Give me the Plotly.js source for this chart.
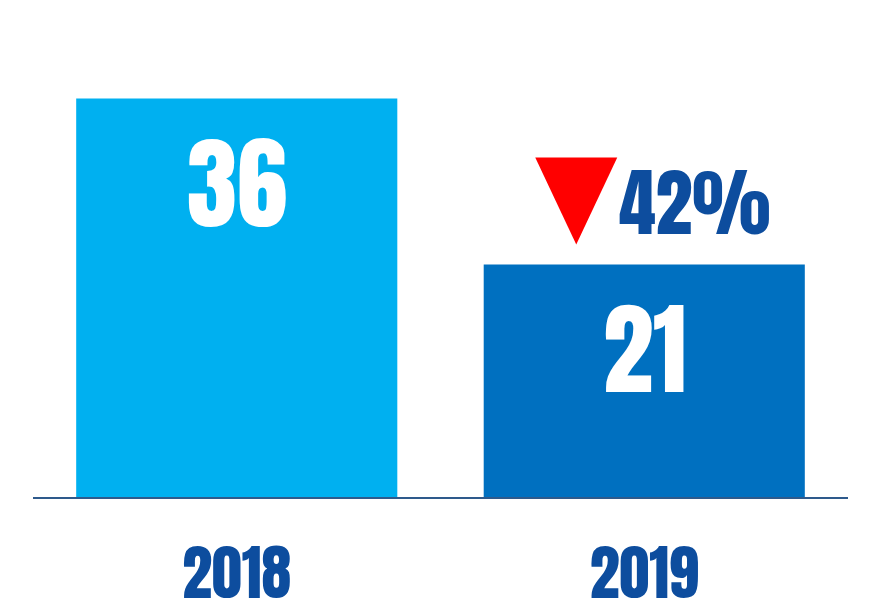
<!DOCTYPE html>
<html><head><meta charset="utf-8">
<script src="https://cdn.plot.ly/plotly-3.0.1.min.js"></script>
<style>html,body{margin:0;padding:0;background:#fff}#c{width:880px;height:616px}</style>
</head><body><div id="c"></div>
<script>
const years = ['2018', '2019'];
const values = [36, 21];
const barColors = ['#00B0F0', '#0070C0'];
const changeLabel = '42%';

const FONT = 'Anton, "Oswald", "Roboto Condensed", sans-serif';
const DARK = '#0D4D9E';

const trace = {
  type: 'bar', x: years, y: values,
  marker: {color: barColors, line: {width: 0}},
  hoverinfo: 'none', showlegend: false
};

const annotations = years.map((yr, i) => ({
  x: i, y: values[i], xref: 'x', yref: 'y',
  text: String(values[i]), showarrow: false,
  yanchor: 'top', yshift: -7,
  font: {family: FONT, size: 101, color: '#FFFFFF'}
}));
annotations.push({
  x: 1, y: values[1], xref: 'x', yref: 'y',
  text: changeLabel, showarrow: false,
  xanchor: 'center', yanchor: 'middle', xshift: 50, yshift: 62,
  font: {family: FONT, size: 74, color: DARK}
});

const layout = {
  width: 880, height: 616,
  margin: {l: 33, r: 32, t: 53, b: 119, pad: 0},
  paper_bgcolor: '#fff', plot_bgcolor: '#fff',
  bargap: 0.212,
  xaxis: {
    type: 'category', range: [-0.5, 1.5],
    showline: true, linecolor: '#2E5A8C', linewidth: 2,
    showgrid: false, zeroline: false, ticks: '',
    ticklabelstandoff: 27,
    tickfont: {family: FONT, size: 60, color: DARK}
  },
  yaxis: {
    range: [0, 40.1], visible: false, showgrid: false, zeroline: false
  },
  annotations: annotations,
  shapes: [{
    type: 'path', xref: 'x', yref: 'y',
    xsizemode: 'pixel', ysizemode: 'pixel',
    xanchor: 1, yanchor: values[1],
    path: 'M -109 107 L -27 107 L -68 20 Z',
    fillcolor: '#FF0000', line: {width: 0}
  }]
};

Plotly.newPlot('c', [trace], layout, {displayModeBar: false, staticPlot: true});
</script>
</body></html>
